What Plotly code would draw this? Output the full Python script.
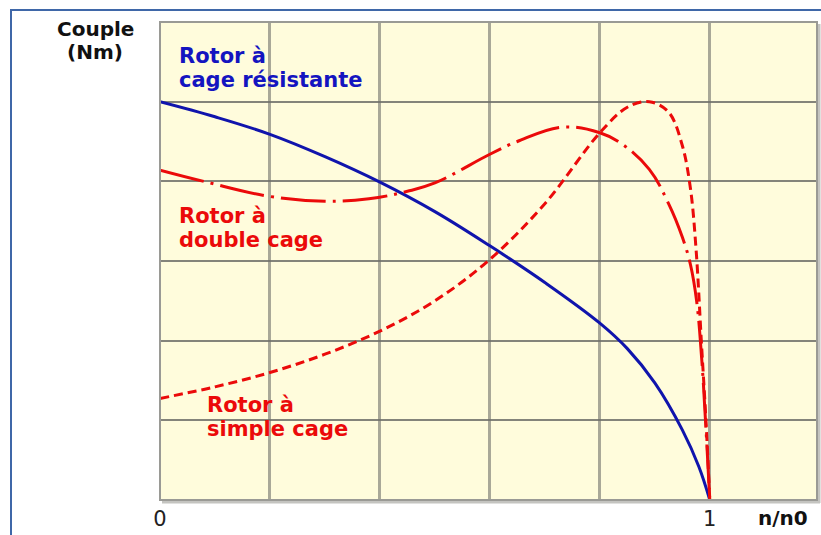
import plotly.graph_objects as go

# ---- data ----
x_resist = [0, 0.1, 0.2, 0.3, 0.4, 0.5, 0.6, 0.7, 0.8, 0.85, 0.9, 0.95, 0.98, 1.0]
t_resist = [5.0, 4.81, 4.59, 4.31, 3.99, 3.62, 3.19, 2.73, 2.22, 1.9, 1.47, 0.88, 0.42, 0.0]

x_double = [0, 0.085, 0.2, 0.3, 0.38, 0.45, 0.5, 0.6, 0.65, 0.73, 0.8, 0.84, 0.89,
            0.925, 0.95, 0.965, 0.976, 0.985, 0.993, 1.0]
t_double = [4.14, 3.99, 3.81, 3.75, 3.78, 3.875, 3.98, 4.34, 4.5, 4.68, 4.61, 4.47, 4.15,
            3.72, 3.3, 2.95, 2.5, 1.8, 0.9, 0.0]

x_simple = [0, 0.1, 0.2, 0.3, 0.4, 0.5, 0.6, 0.7, 0.8, 0.85, 0.89, 0.925, 0.95, 0.965,
            0.975, 0.985, 0.993, 1.0]
t_simple = [1.275, 1.42, 1.6, 1.83, 2.12, 2.5, 3.02, 3.72, 4.61, 4.93, 5.0, 4.87, 4.45, 3.9,
            3.15, 1.95, 1.0, 0.0]

x_tickvals = [0, 0.2, 0.4, 0.6, 0.8, 1.0]
x_ticktext = ["0", "", "", "", "", "1"]
y_tickvals = [0, 1, 2, 3, 4, 5, 6]

# ---- layout geometry ----
W, H = 821, 535
L, R, T, B = 160, 4, 22, 33
PW, PH = W - L - R, H - T - B


def px(x):
    return (x - L) / PW


def py(y):
    return (H - B - y) / PH


BLUE = "rgb(16,20,172)"
RED = "rgb(235,10,10)"

fig = go.Figure()
fig.add_trace(go.Scatter(x=x_resist, y=t_resist, mode="lines",
                         line=dict(color=BLUE, width=3, shape="spline", smoothing=1.1),
                         hoverinfo="skip"))
fig.add_trace(go.Scatter(x=x_double, y=t_double, mode="lines",
                         line=dict(color=RED, width=3, shape="spline", smoothing=1.1,
                                   dash="45px,7px,3px,7px"),
                         hoverinfo="skip"))
fig.add_trace(go.Scatter(x=x_simple, y=t_simple, mode="lines",
                         line=dict(color=RED, width=3, shape="spline", smoothing=1.0,
                                   dash="9px,5px"),
                         hoverinfo="skip"))

fig.update_xaxes(range=[0, 1.195], tickvals=x_tickvals, ticktext=x_ticktext,
                 showgrid=True, gridcolor="rgba(140,140,130,0.75)", gridwidth=3,
                 zeroline=False, showline=False, ticks="", ticklabelstandoff=4,
                 tickfont=dict(family="DejaVu Sans", size=21, color="#222"))
fig.update_yaxes(range=[0, 6], tickvals=y_tickvals, showticklabels=False,
                 showgrid=True, gridcolor="rgba(110,110,105,0.85)", gridwidth=2,
                 zeroline=False, showline=False, ticks="")

shapes = []
shapes.append(dict(type="line", xref="paper", yref="paper", x0=1.0 + 2 / PW, x1=1.0 + 2 / PW,
                   y0=-3 / PH, y1=1.0 - 2 / PH, line=dict(color="#c4c4c0", width=3)))
shapes.append(dict(type="line", xref="paper", yref="paper", x0=2 / PW, x1=1.0 + 3 / PW,
                   y0=-2 / PH, y1=-2 / PH, line=dict(color="#c4c4c0", width=3)))
shapes.append(dict(type="rect", xref="paper", yref="paper", x0=0, x1=1, y0=0, y1=1,
                   line=dict(color="#9a9a95", width=2), layer="above"))
shapes.append(dict(type="line", xref="paper", yref="paper", x0=px(10), x1=px(W + 5),
                   y0=py(10), y1=py(10), line=dict(color="#3f67a8", width=2)))
shapes.append(dict(type="line", xref="paper", yref="paper", x0=px(11), x1=px(11),
                   y0=py(10), y1=py(H + 5), line=dict(color="#3f67a8", width=2)))

BF = "DejaVu Sans"
ann = []


def label(text, x, y, color, size=21, anchor="left", bold=True):
    ann.append(dict(text=f"<b>{text}</b>" if bold else text, xref="paper", yref="paper",
                    x=px(x), y=py(y), xanchor=anchor, yanchor="middle", showarrow=False,
                    font=dict(family=BF, size=size, color=color)))


label("Couple", 95, 29, "#111", size=20, anchor="center")
label("(Nm)", 95, 52, "#111", size=20, anchor="center")
label("Rotor à", 177, 56, "#1414c0")
label("cage résistante", 177, 80, "#1414c0")
label("Rotor à", 177, 217, RED)
label("double cage", 177, 241, RED)
label("Rotor à", 205, 407, RED)
label("simple cage", 205, 431, RED)
label("n/n0", 783, 520, "#111", size=20, anchor="center")

fig.update_layout(width=W, height=H, margin=dict(l=L, r=R, t=T, b=B),
                  paper_bgcolor="white", plot_bgcolor="#FFFCDC",
                  showlegend=False, shapes=shapes, annotations=ann)

fig.write_html("out.html", config={"displayModeBar": False},
               post_script="document.body.style.margin='0px';document.body.style.overflow='hidden';")
